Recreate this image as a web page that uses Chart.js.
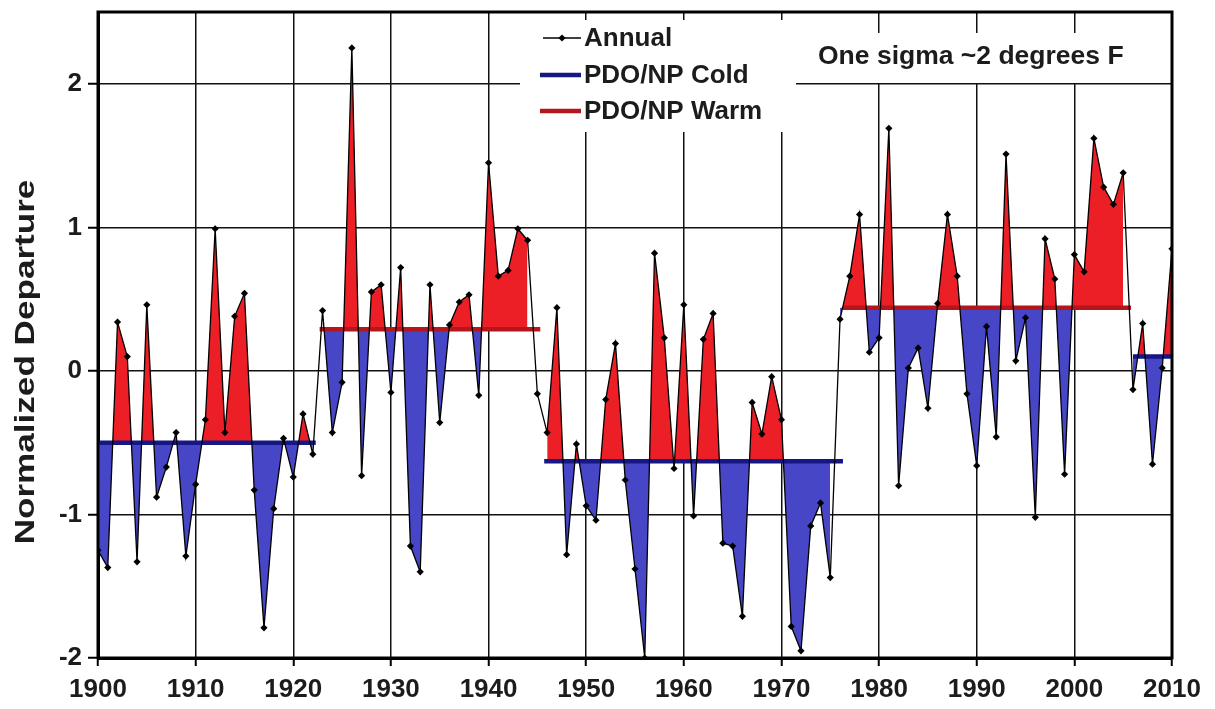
<!DOCTYPE html>
<html><head><meta charset="utf-8">
<script src="https://cdn.jsdelivr.net/npm/chart.js@4.4.1/dist/chart.umd.min.js"></script>
<style>html,body{margin:0;padding:0;background:#fff;}#wrap{width:1215px;height:709px;position:relative;}</style>
</head><body><div id="wrap"><canvas id="c" width="1215" height="709"></canvas></div>
<script>
// ---------- data ----------
const years = [1900,1901,1902,1903,1904,1905,1906,1907,1908,1909,
  1910,1911,1912,1913,1914,1915,1916,1917,1918,1919,
  1920,1921,1922,1923,1924,1925,1926,1927,1928,1929,
  1930,1931,1932,1933,1934,1935,1936,1937,1938,1939,
  1940,1941,1942,1943,1944,1945,1946,1947,1948,1949,
  1950,1951,1952,1953,1954,1955,1956,1957,1958,1959,
  1960,1961,1962,1963,1964,1965,1966,1967,1968,1969,
  1970,1971,1972,1973,1974,1975,1976,1977,1978,1979,
  1980,1981,1982,1983,1984,1985,1986,1987,1988,1989,
  1990,1991,1992,1993,1994,1995,1996,1997,1998,1999,
  2000,2001,2002,2003,2004,2005,2006,2007,2008,2009,2010];
const annual = [-1.25,-1.37,0.34,0.10,-1.33,0.46,-0.88,-0.67,-0.43,-1.29,
  -0.79,-0.34,0.99,-0.43,0.38,0.54,-0.83,-1.79,-0.96,-0.47,
  -0.74,-0.30,-0.58,0.42,-0.43,-0.08,2.25,-0.73,0.55,0.60,
  -0.15,0.72,-1.22,-1.40,0.60,-0.36,0.32,0.48,0.53,-0.17,
  1.45,0.66,0.70,0.99,0.91,-0.16,-0.43,0.44,-1.28,-0.51,
  -0.94,-1.04,-0.20,0.19,-0.76,-1.38,-2.00,0.82,0.23,-0.68,
  0.46,-1.01,0.22,0.40,-1.20,-1.22,-1.71,-0.22,-0.44,-0.04,
  -0.34,-1.78,-1.95,-1.08,-0.92,-1.44,0.36,0.66,1.09,0.13,
  0.23,1.69,-0.80,0.02,0.16,-0.26,0.47,1.09,0.66,-0.16,
  -0.66,0.31,-0.46,1.51,0.07,0.37,-1.02,0.92,0.64,-0.72,
  0.81,0.69,1.62,1.28,1.16,1.38,-0.13,0.33,-0.65,0.02,0.85];
// PDO/NP regimes
const regimeLevel     = [-0.50, 0.29, -0.63, 0.44, 0.10];
const regimeWarm      = [false, true, false, true, false];
const regimeLineStart = [1900, 1922.7, 1945.7, 1976.3, 2006];
const regimeLineEnd   = [1922.3, 1945.3, 1976.3, 2005.8, 2010];
const regimeFillStart = [1900, 1923, 1946, 1976, 2006];
const regimeFillEnd   = [1922, 1944, 1975, 2005, 2010];
const xTicks = [1900,1910,1920,1930,1940,1950,1960,1970,1980,1990,2000,2010];
const yTicks = [-2,-1,0,1,2];
const legendLabels = ['Annual','PDO/NP Cold','PDO/NP Warm'];
const noteText = 'One sigma ~2 degrees F';
const yTitle = 'Normalized Departure';

// ---------- styles ----------
const FONT = "'Liberation Sans', Arial, sans-serif";
const TXT = '#1c1c1c';
const RED_FILL = '#ec1f26';
const BLUE_FILL = '#4646c6';
const COLD_LINE = '#161685';
const WARM_LINE = '#b3161c';

const annualPts = years.map((y,i)=>({x:y, y:annual[i]}));

const datasets = [];
datasets.push({
  label: legendLabels[0], data: annualPts, borderColor:'#000', borderWidth:1.3,
  pointStyle:'rectRot', pointRadius:3.6, pointBackgroundColor:'#000', pointBorderColor:'#000',
  pointBorderWidth:0, fill:false, tension:0, order:0
});
regimeLevel.forEach((lv,i)=>{
  datasets.push({
    label: regimeWarm[i]?legendLabels[2]:legendLabels[1],
    data:[{x:regimeLineStart[i],y:lv},{x:regimeLineEnd[i],y:lv}],
    borderColor: regimeWarm[i]?WARM_LINE:COLD_LINE, borderWidth:4.5,
    pointRadius:0, fill:false, order:1, borderCapStyle:'butt'
  });
});
regimeLevel.forEach((lv,i)=>{
  datasets.push({
    label:'fill'+i,
    data: annualPts.filter(p=>p.x>=regimeFillStart[i] && p.x<=regimeFillEnd[i]),
    borderColor:'rgba(0,0,0,0)', borderWidth:0, pointRadius:0,
    fill:{value:lv, above:RED_FILL, below:BLUE_FILL}, order:2
  });
});

const decor = {
  id:'decor',
  beforeDatasetsDraw(chart){
    const ctx = chart.ctx;
    ctx.save();
    ctx.fillStyle = '#fff';
    ctx.fillRect(520, 20, 276, 112);
    ctx.fillRect(798, 33, 355, 50);
    ctx.restore();
  },
  afterDatasetsDraw(chart){
    const ctx = chart.ctx, a = chart.chartArea;
    ctx.save();
    ctx.strokeStyle = '#000'; ctx.lineWidth = 3;
    ctx.strokeRect(a.left, a.top, a.right-a.left, a.bottom-a.top);
    ctx.font = 'bold 26px ' + FONT;
    ctx.fillStyle = TXT; ctx.textBaseline = 'middle'; ctx.textAlign = 'left';
    const rows = [38, 75, 111];
    ctx.strokeStyle = '#000'; ctx.lineWidth = 1.3;
    ctx.beginPath(); ctx.moveTo(543, rows[0]); ctx.lineTo(581, rows[0]); ctx.stroke();
    ctx.fillStyle = '#000';
    ctx.beginPath(); ctx.moveTo(562, rows[0]-3.6); ctx.lineTo(565.6, rows[0]); ctx.lineTo(562, rows[0]+3.6); ctx.lineTo(558.4, rows[0]); ctx.closePath(); ctx.fill();
    ctx.lineWidth = 4.5;
    ctx.strokeStyle = COLD_LINE;
    ctx.beginPath(); ctx.moveTo(540, rows[1]); ctx.lineTo(581, rows[1]); ctx.stroke();
    ctx.strokeStyle = WARM_LINE;
    ctx.beginPath(); ctx.moveTo(540, rows[2]); ctx.lineTo(581, rows[2]); ctx.stroke();
    ctx.fillStyle = TXT;
    legendLabels.forEach((t,i)=>ctx.fillText(t, 584, rows[i]+1));
    ctx.font = 'bold 26.5px ' + FONT;
    ctx.fillText(noteText, 818, 57);
    // y-axis title (tall, condensed look as in the original)
    ctx.translate(27, 362);
    ctx.rotate(-Math.PI/2);
    ctx.scale(1.3, 1);
    ctx.font = 'bold 27px ' + FONT;
    ctx.textAlign = 'center'; ctx.textBaseline = 'middle';
    ctx.fillText(yTitle, 0, 0);
    ctx.restore();
  }
};

new Chart(document.getElementById('c'), {
  type:'line',
  data:{datasets},
  options:{
    responsive:false, animation:false, devicePixelRatio:1,
    layout:{padding:{left:0,right:43,top:12,bottom:0}},
    plugins:{legend:{display:false}, tooltip:{enabled:false}, filler:{drawTime:'beforeDatasetsDraw'}},
    scales:{
      x:{type:'linear', min:1900, max:2010,
        afterBuildTicks:s=>{s.ticks = xTicks.map(v=>({value:v}));},
        afterFit:s=>{s.height = 51; s.paddingLeft = 0; s.paddingRight = 0;},
        ticks:{font:{family:FONT,size:26,weight:'bold'}, color:TXT, padding:8, maxRotation:0, autoSkip:false, callback:v=>String(v)},
        grid:{color:'#111', lineWidth:1.5, tickLength:8, tickColor:'#000', tickWidth:2},
        border:{display:true, color:'#000', width:3}
      },
      y:{type:'linear', min:-2, max:2.5,
        afterBuildTicks:s=>{s.ticks = yTicks.map(v=>({value:v}));},
        afterFit:s=>{s.width = 98; s.paddingTop = 0; s.paddingBottom = 0;},
        ticks:{font:{family:FONT,size:26,weight:'bold'}, color:TXT, padding:6, callback:v=>String(v)},
        grid:{color:'#111', lineWidth:1.5, tickLength:10, tickColor:'#000', tickWidth:2},
        border:{display:true, color:'#000', width:3},
        title:{display:false, text:yTitle}
      }
    }
  },
  plugins:[decor]
});
</script></body></html>
